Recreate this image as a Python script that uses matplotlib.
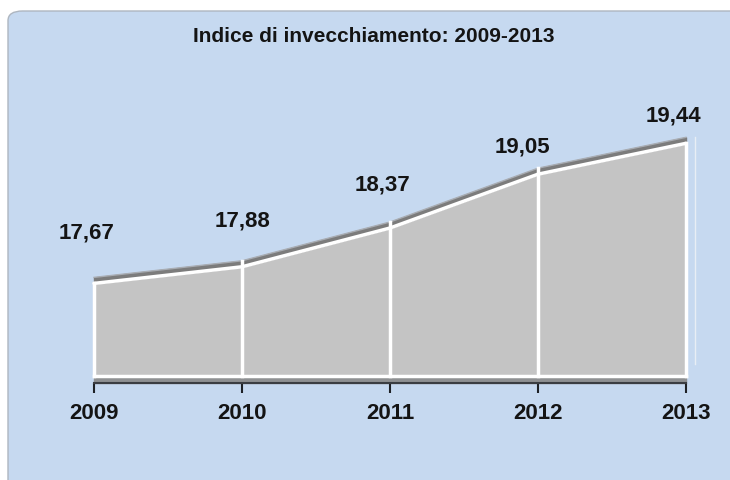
import matplotlib
matplotlib.use("Agg")
import matplotlib.pyplot as plt
from matplotlib.patches import FancyBboxPatch
from matplotlib import font_manager

years = [2009, 2010, 2011, 2012, 2013]
values = [17.67, 17.88, 18.37, 19.05, 19.44]
labels = ["17,67", "17,88", "18,37", "19,05", "19,44"]
title = "Indice di invecchiamento: 2009-2013"

# label placement relative to each point, in pixels
label_offsets = [(-7, 50), (0, 46), (-7, 43), (-16, 27), (-13, 27)]

W, H, DPI = 730, 480, 100
fig = plt.figure(figsize=(W / DPI, H / DPI), dpi=DPI)
fig.patch.set_facecolor("white")

names = {f.name for f in font_manager.fontManager.ttflist}
narrow = "Liberation Sans Narrow" if "Liberation Sans Narrow" in names else "Liberation Sans"

# blue panel with rounded top-left corner
panel = FancyBboxPatch((8 / W, -0.2), 1.2, (H - 11) / H + 0.2,
                       boxstyle="round,pad=0,rounding_size=0.02",
                       transform=fig.transFigure, facecolor="#c6d9f0",
                       edgecolor="#aeb6c0", linewidth=1.0, zorder=-10)
fig.patches.append(panel)

fig.text(374 / W, 1 - 37 / H, title, ha="center", va="center",
         fontsize=15, fontweight="bold", family=[narrow, "DejaVu Sans"],
         color="#141414")

# axes geometry in pixels
x0, x1 = 94, 686
ybase, ytop = 376, 99
ymin, ymax = 16.5, 20.0
ax = fig.add_axes([x0 / W, (H - ybase) / H, (x1 - x0) / W, (ybase - ytop) / H])
ax.set_zorder(5)
ax.set_xlim(years[0], years[-1])
ax.set_ylim(ymin, ymax)
ax.patch.set_alpha(0)

px_per_unit = (ybase - ytop) / (ymax - ymin)
band = 6 / px_per_unit

# front face of the area
ax.fill_between(years, ymin, values, color="#c4c4c4", zorder=2, clip_on=False)
# top face
ax.fill_between(years, values, [v + band for v in values], color="#7c7c7c",
                zorder=2, clip_on=False)
ax.plot(years, [v + band for v in values], color="#a8acb2", lw=1, zorder=3,
        clip_on=False)
ax.plot(years, values, color="white", lw=2.5, zorder=4, clip_on=False,
        solid_capstyle="round")
ax.plot([years[0], years[-1]], [ymin, ymin], color="white", lw=2.5, zorder=4,
        clip_on=False)
for i, (x, v) in enumerate(zip(years, values)):
    top = v if i in (0, len(years) - 1) else v + band
    ax.plot([x, x], [ymin, top], color="white", lw=2.5, zorder=4, clip_on=False)

# side edge behind the last year
dx_side = 9 / ((x1 - x0) / (years[-1] - years[0]))
ax.plot([years[-1] + dx_side] * 2, [ymin + 12 / px_per_unit, values[-1] + band],
        color="#e8eef5", lw=1, zorder=1, clip_on=False)

# floor under the baseline
floor = 7 / px_per_unit
ax.fill_between(years, ymin - floor, ymin, color="#8e9092", zorder=1,
                clip_on=False)

for s in ["top", "right", "left"]:
    ax.spines[s].set_visible(False)
ax.spines["bottom"].set_position(("outward", 7 * 72 / DPI))
ax.spines["bottom"].set_color("#3a3d42")
ax.spines["bottom"].set_linewidth(1.5)
ax.set_yticks([])
ax.set_xticks(years, [str(y) for y in years])
ax.tick_params(axis="x", direction="out", length=10 * 72 / DPI, width=1.5,
               color="#1e2126", pad=7, labelsize=16, labelcolor="#141414")
for t in ax.get_xticklabels():
    t.set_fontweight("bold")
    t.set_family(["Liberation Sans", "DejaVu Sans"])

for x, v, lab, (dx, dy) in zip(years, values, labels, label_offsets):
    ax.annotate(lab, (x, v), xytext=(dx, dy), textcoords="offset pixels",
                ha="center", va="center", fontsize=16, fontweight="bold",
                family=["Liberation Sans", "DejaVu Sans"], color="#141414",
                annotation_clip=False)

fig.savefig("out.png", dpi=DPI)
